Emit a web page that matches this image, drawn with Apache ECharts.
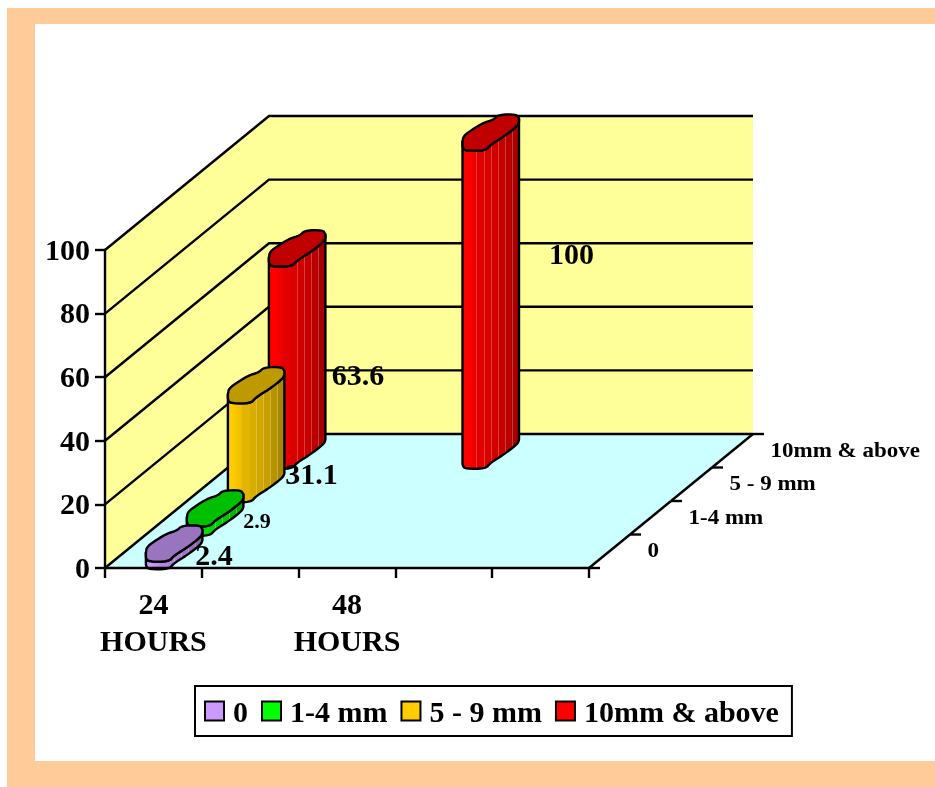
<!DOCTYPE html>
<html>
<head>
<meta charset="utf-8">
<style>
  html, body { margin: 0; padding: 0; background: #fff; }
  #chart { width: 935px; height: 787px; }
</style>
</head>
<body>
<div id="chart"></div>
<script src="https://cdn.jsdelivr.net/npm/echarts@6/dist/echarts.min.js"></script>
<script>
// data
var categories = ['24\nHOURS', '', '48\nHOURS', '', ''];
var yTicks = [0, 20, 40, 60, 80, 100];
var depthNames = ['0', '1-4 mm', '5 - 9 mm', '10mm & above'];
var values0 = [2.4, null, null, null, null];
var values1to4 = [2.9, null, null, null, null];
var values5to9 = [31.1, null, null, null, null];
var values10up = [63.6, null, 100, null, null];

// look of the fake 3d box
var FONT = '"Liberation Serif", "Times New Roman", serif';
var DEPTH_X = 164, DEPTH_Y = 134;
var LINE = 2.4;
var WALL = '#FFFF99', FLOOR = '#CCFFFF';
var LOWER = [[-28, 9], [-28, 15], [-25, 18], [-5, 18], [0, 12], [13, 4], [26, -6], [28.5, -10], [28.5, -14]];
var UPPER = [[-28, 9], [-27, 3], [-17, -4], [-7, -10], [3, -13], [8, -18], [26, -18.5], [28.5, -14]];
var STRIPES = [0.26, 0.40, 0.51, 0.63, 0.75, 0.87, 1];
var SHADES = [0.93, 0.88, 0.85, 0.82, 0.78, 0.72, 0.66];
// label position against the foot of each bar: [dx, dy, size]
var LABEL_POS = {
    '0-0': [40, 6, 30],
    '1-0': [42, 5, 22],
    '2-0': [55.5, -8, 30],
    '3-0': [61, -74, 30],
    '3-2': [81, -195, 30]
};

function chaikin(pts, n) {
    for (var k = 0; k < n; k++) {
        var out = [pts[0]];
        for (var i = 0; i < pts.length - 1; i++) {
            var a = pts[i], b = pts[i + 1];
            out.push([a[0] * 0.75 + b[0] * 0.25, a[1] * 0.75 + b[1] * 0.25]);
            out.push([a[0] * 0.25 + b[0] * 0.75, a[1] * 0.25 + b[1] * 0.75]);
        }
        out.push(pts[pts.length - 1]);
        pts = out;
    }
    return pts;
}
var lowerEdge = chaikin(LOWER, 2);
var upperEdge = chaikin(UPPER, 2);

function shade(rgb, f) {
    return 'rgb(' + Math.round(rgb[0] * f) + ',' + Math.round(rgb[1] * f) + ',' + Math.round(rgb[2] * f) + ')';
}
// thin light line between two facets
function tint(rgb, f) {
    return 'rgb(' + Math.round(rgb[0] * f * 0.75 + 60) + ',' + Math.round(rgb[1] * f * 0.75 + 60) + ',' + Math.round(rgb[2] * f * 0.75 + 60) + ')';
}
function stripeFill(rgb) {
    var stops = [{ offset: 0, color: shade(rgb, 1) }];
    var start = 0.1;
    for (var i = 0; i < STRIPES.length; i++) {
        stops.push({ offset: start, color: shade(rgb, i == 0 ? 1 : SHADES[i]) });
        stops.push({ offset: STRIPES[i] - 0.008, color: shade(rgb, SHADES[i]) });
        if (i < STRIPES.length - 1) {
            stops.push({ offset: STRIPES[i] - 0.008, color: tint(rgb, SHADES[i]) });
            stops.push({ offset: STRIPES[i] + 0.004, color: tint(rgb, SHADES[i]) });
            start = STRIPES[i] + 0.004;
        }
    }
    return new echarts.graphic.LinearGradient(0, 0, 1, 0, stops);
}

function barSeries(name, depth, values, rgb, capColor) {
    var fill = stripeFill(rgb);
    var data = [];
    values.forEach(function (v, i) {
        if (v != null) data.push([i, v]);
    });
    return {
        name: name,
        type: 'custom',
        coordinateSystem: 'cartesian2d',
        z: 6 - depth,
        silent: true,
        itemStyle: { color: shade(rgb, 1) },
        encode: { x: 0, y: 1 },
        data: data,
        renderItem: function (params, api) {
            var cat = api.value(0), val = api.value(1);
            var f = (depth + 0.5) / 4;
            var foot = api.coord([cat, 0]), top = api.coord([cat, val]);
            var dx = f * DEPTH_X, dy = -f * DEPTH_Y;
            var fx = foot[0] + dx, fy = foot[1] + dy, ty = top[1] + dy;
            var body = [];
            lowerEdge.forEach(function (p) { body.push([fx + p[0], fy + p[1]]); });
            lowerEdge.slice().reverse().forEach(function (p) { body.push([fx + p[0], ty + p[1]]); });
            var cap = [];
            lowerEdge.forEach(function (p) { cap.push([fx + p[0], ty + p[1]]); });
            upperEdge.slice().reverse().forEach(function (p) { cap.push([fx + p[0], ty + p[1]]); });
            var pos = LABEL_POS[depth + '-' + cat];
            return {
                type: 'group',
                children: [
                    { type: 'polygon', shape: { points: body }, style: { fill: fill, stroke: '#000', lineWidth: LINE, lineJoin: 'round' } },
                    { type: 'polygon', shape: { points: cap }, style: { fill: capColor, stroke: '#000', lineWidth: LINE, lineJoin: 'round' } },
                    {
                        type: 'text',
                        x: fx + pos[0],
                        y: fy + pos[1],
                        style: {
                            text: String(val),
                            font: 'bold ' + pos[2] + 'px ' + FONT,
                            fill: '#000',
                            align: 'center',
                            verticalAlign: 'middle'
                        }
                    }
                ]
            };
        }
    };
}

var chart = echarts.init(document.getElementById('chart'));
var option = {
    animation: false,
    backgroundColor: '#fff',
    graphic: [
        { type: 'rect', z: -10, silent: true, shape: { x: 7, y: 8, width: 928, height: 779 }, style: { fill: '#FFCC99' } },
        { type: 'rect', z: -9, silent: true, shape: { x: 35, y: 24, width: 900, height: 737 }, style: { fill: '#fff' } }
    ],
    grid: { left: 105, top: 250, width: 484, height: 318 },
    xAxis: {
        type: 'category',
        z: 10,
        data: categories,
        axisLine: { lineStyle: { color: '#000', width: LINE } },
        axisTick: { show: true, length: 10, interval: 0, lineStyle: { color: '#000', width: LINE } },
        axisLabel: {
            interval: 0,
            margin: 20,
            color: '#000',
            fontFamily: FONT,
            fontWeight: 'bold',
            fontSize: 30,
            lineHeight: 37
        }
    },
    yAxis: {
        type: 'value',
        z: 10,
        min: 0,
        max: 100,
        interval: 20,
        axisLine: { show: true, lineStyle: { color: '#000', width: LINE } },
        axisTick: { show: true, length: 10, lineStyle: { color: '#000', width: LINE } },
        axisLabel: { margin: 15, color: '#000', fontFamily: FONT, fontWeight: 'bold', fontSize: 30, verticalAlign: 'top', lineHeight: 4 },
        splitLine: { show: false }
    },
    legend: {
        left: 195,
        top: 686,
        padding: [13, 13, 7, 9],
        backgroundColor: '#fff',
        borderColor: '#000',
        borderWidth: 2,
        borderRadius: 0,
        selectedMode: false,
        icon: 'rect',
        itemWidth: 19,
        itemHeight: 19,
        itemGap: 13,
        itemStyle: { borderColor: '#000', borderWidth: 2 },
        formatter: '{t|{name}}',
        textStyle: {
            rich: {
                t: { color: '#000', fontFamily: FONT, fontWeight: 'bold', fontSize: 30, padding: [6, 0, 0, 4] }
            }
        },
        data: ['0', '1-4 mm', '5 - 9 mm', '10mm & above']
    },
    series: [
        {
            // walls and floor
            type: 'custom',
            z: 1,
            silent: true,
            data: [[0, 0]],
            encode: { x: 0, y: 1 },
            renderItem: function (params) {
                var c = params.coordSys;
                var x0 = c.x, x1 = c.x + c.width, y0 = c.y + c.height, y1 = c.y;
                return {
                    type: 'group',
                    children: [
                        { type: 'polygon', shape: { points: [[x0, y0], [x0, y1], [x0 + DEPTH_X, y1 - DEPTH_Y], [x0 + DEPTH_X, y0 - DEPTH_Y]] }, style: { fill: WALL } },
                        { type: 'rect', shape: { x: x0 + DEPTH_X, y: y1 - DEPTH_Y, width: c.width, height: c.height }, style: { fill: WALL } },
                        { type: 'polygon', shape: { points: [[x0, y0], [x1, y0], [x1 + DEPTH_X, y0 - DEPTH_Y], [x0 + DEPTH_X, y0 - DEPTH_Y]] }, style: { fill: FLOOR } }
                    ]
                };
            }
        },
        {
            // gridlines running along both walls
            type: 'custom',
            z: 2,
            silent: true,
            data: yTicks.map(function (t) { return [0, t]; }),
            encode: { x: 0, y: 1 },
            renderItem: function (params, api) {
                var c = params.coordSys;
                var y = api.coord([0, api.value(1)])[1];
                return {
                    type: 'polyline',
                    shape: { points: [[c.x, y], [c.x + DEPTH_X, y - DEPTH_Y], [c.x + c.width + DEPTH_X, y - DEPTH_Y]] },
                    style: { fill: null, stroke: '#000', lineWidth: LINE }
                };
            }
        },
        {
            // depth axis on the floor edge
            type: 'custom',
            z: 3,
            silent: true,
            data: depthNames.map(function (n, i) { return [0, 0, i]; }),
            encode: { x: 0, y: 1 },
            renderItem: function (params, api) {
                var c = params.coordSys;
                var i = api.value(2);
                var x0 = c.x + c.width, y0 = c.y + c.height;
                var tick = function (f) {
                    var x = x0 + f * DEPTH_X, y = y0 - f * DEPTH_Y;
                    return { type: 'line', shape: { x1: x, y1: y, x2: x + 11, y2: y }, style: { stroke: '#000', lineWidth: LINE } };
                };
                var f = (i + 0.5) / 4;
                var children = [
                    tick(i / 4),
                    { type: 'line', shape: { x1: x0 + i / 4 * DEPTH_X, y1: y0 - i / 4 * DEPTH_Y, x2: x0 + (i + 1) / 4 * DEPTH_X, y2: y0 - (i + 1) / 4 * DEPTH_Y }, style: { stroke: '#000', lineWidth: LINE } },
                    {
                        type: 'text',
                        x: x0 + f * DEPTH_X + 38,
                        y: y0 - f * DEPTH_Y + 1,
                        scaleX: 1.15,
                        style: {
                            text: depthNames[i],
                            font: 'bold 20px ' + FONT,
                            fill: '#000',
                            align: 'left',
                            verticalAlign: 'middle'
                        }
                    }
                ];
                if (i == 3) children.push(tick(1));
                return { type: 'group', children: children };
            }
        },
        barSeries('10mm & above', 3, values10up, [255, 0, 0], '#C00000'),
        barSeries('5 - 9 mm', 2, values5to9, [255, 204, 0], '#BF9900'),
        barSeries('1-4 mm', 1, values1to4, [0, 255, 0], '#00BF00'),
        barSeries('0', 0, values0, [204, 153, 255], '#9A75BF')
    ]
};
chart.setOption(option);
window.addEventListener('resize', function () {
    chart.resize();
});
</script>
</body>
</html>
